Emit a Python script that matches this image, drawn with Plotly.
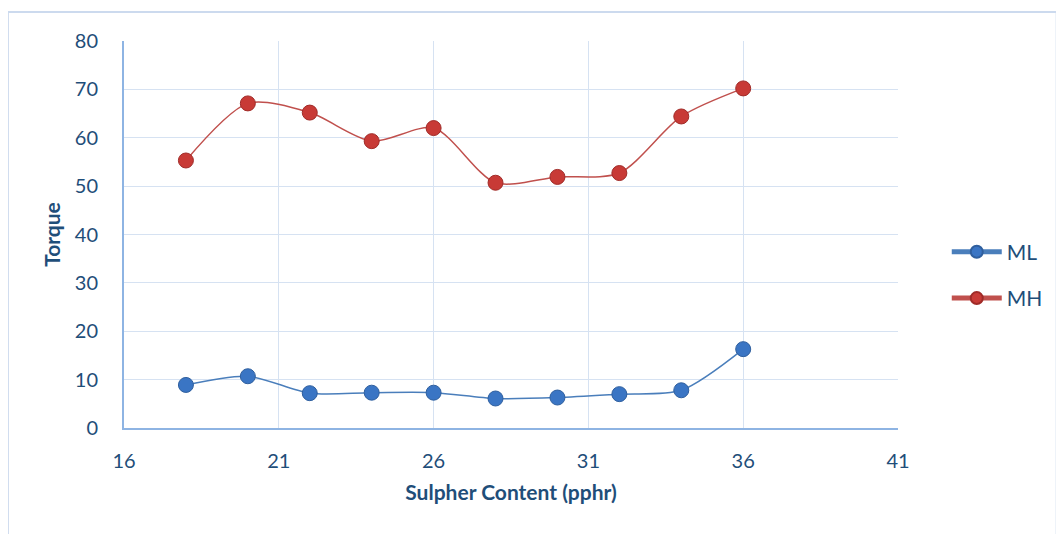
import plotly.graph_objects as go

sulphur = [18, 20, 22, 24, 26, 28, 30, 32, 34, 36]
ml = [8.9, 10.7, 7.2, 7.3, 7.3, 6.1, 6.3, 7.0, 7.8, 16.3]
mh = [55.3, 67.1, 65.2, 59.3, 62.0, 50.7, 51.9, 52.7, 64.4, 70.2]

font_family = "Lato, Open Sans, sans-serif"
text_color = "#1F4E79"

fig = go.Figure()
fig.add_trace(go.Scatter(
    x=sulphur, y=ml, name="ML", mode="lines+markers", legendgroup="ml",
    line=dict(color="#4A7EBB", width=1.5, shape="spline", smoothing=0.8),
    marker=dict(color="#3A75C4", size=15, line=dict(color="#2F5F9E", width=1)),
))
fig.add_trace(go.Scatter(
    x=sulphur, y=mh, name="MH", mode="lines+markers", legendgroup="mh",
    line=dict(color="#C0504D", width=1.5, shape="spline", smoothing=0.8),
    marker=dict(color="#C83A36", size=15, line=dict(color="#A02B28", width=1)),
))

fig.update_layout(
    width=1064, height=534,
    paper_bgcolor="white", plot_bgcolor="white",
    margin=dict(l=116, r=174, t=33, b=114),
    font=dict(family=font_family, color=text_color, size=20),
    showlegend=True,
    legend=dict(x=1.063, y=0.395, xanchor="left", yanchor="middle",
                font=dict(size=21, color=text_color),
                itemsizing="constant", tracegroupgap=16, bgcolor="rgba(0,0,0,0)",
                itemwidth=50),
    xaxis=dict(range=[16, 41], tick0=16, dtick=5, showgrid=True,
               gridcolor="#D6E2F2", gridwidth=1.2, zeroline=False,
               showline=True, linecolor="#8EB4E3", linewidth=2,
               ticks="", ticklabelstandoff=14,
               title=dict(text="<b>Sulpher Content (pphr)</b>", font=dict(size=21, color=text_color), standoff=14),
               tickfont=dict(size=20, color=text_color)),
    yaxis=dict(range=[0, 80], dtick=10, showgrid=True,
               gridcolor="#D6E2F2", gridwidth=1.2, zeroline=False,
               showline=True, linecolor="#8EB4E3", linewidth=2,
               ticks="", ticklabelstandoff=20,
               title=dict(text="<b>Torque</b>", font=dict(size=21, color=text_color), standoff=8),
               tickfont=dict(size=20, color=text_color)),
)

fig.add_shape(type="rect", xref="paper", yref="paper",
              x0=-0.15, x1=1.205, y0=-0.3, y1=1.075,
              line=dict(color="#CCDAEE", width=2), fillcolor="rgba(0,0,0,0)", layer="below")

fig.write_html("out.html")
